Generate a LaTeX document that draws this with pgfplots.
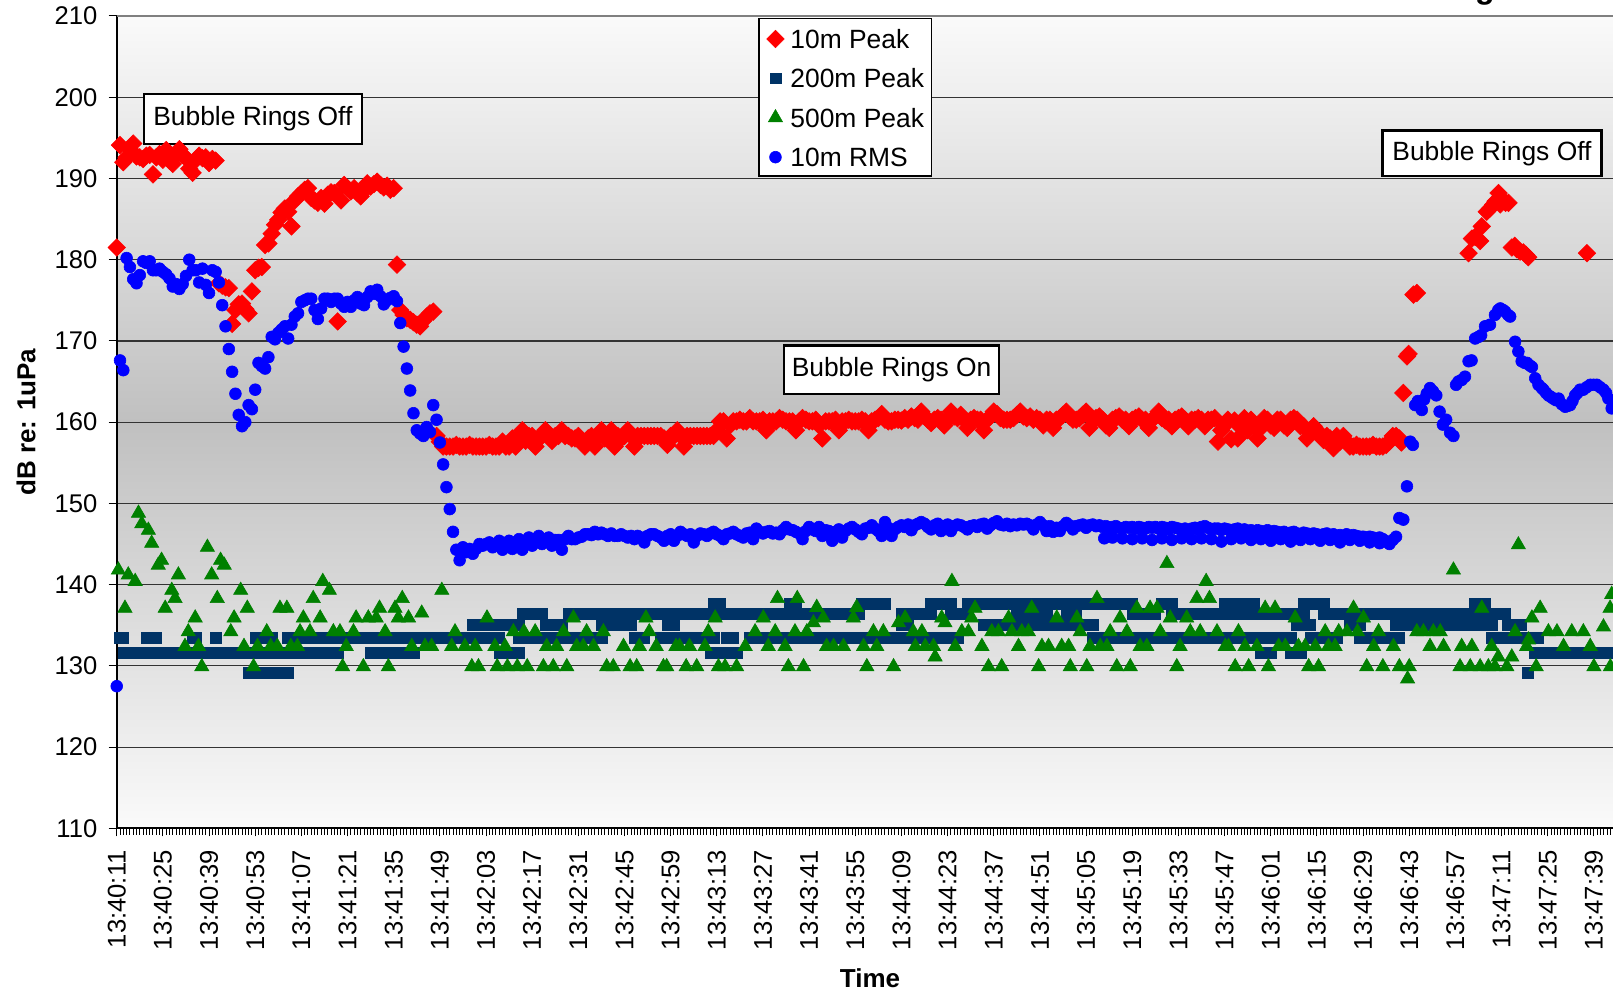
\documentclass[border=0pt]{standalone}
\usepackage{pgfplots}
\pgfplotsset{compat=1.18}
\usepackage{fontspec}
\setmainfont{Liberation Sans}
\definecolor{rpk}{HTML}{FF0000}
\definecolor{npk}{HTML}{003366}
\definecolor{gpk}{HTML}{008000}
\definecolor{brms}{HTML}{0000FF}
\definecolor{bgmid}{HTML}{C0C0C0}
\definecolor{bgedge}{HTML}{FAFAFA}
\begin{document}
\begin{tikzpicture}
\begin{axis}[
  x=1.6485pt, y=4.0615pt,
  xmin=0, xmax=460, ymin=110, ymax=210,
  clip=false,
  axis x line*=bottom, axis y line*=left,
  axis line style={black, line width=1pt},
  axis background/.style={top color=bgedge, bottom color=bgedge, middle color=bgmid},
  ytick={110,120,...,210},
  ymajorgrids, grid style={black!80, line width=0.6pt},
  xtick={0,14,...,448},
  minor xtick={0,1,...,460},
  xticklabels={13:40:11,13:40:25,13:40:39,13:40:53,13:41:07,13:41:21,13:41:35,13:41:49,13:42:03,13:42:17,13:42:31,13:42:45,13:42:59,13:43:13,13:43:27,13:43:41,13:43:55,13:44:09,13:44:23,13:44:37,13:44:51,13:45:05,13:45:19,13:45:33,13:45:47,13:46:01,13:46:15,13:46:29,13:46:43,13:46:57,13:47:11,13:47:25,13:47:39},
  tick align=outside,
  major tick length=4pt, minor tick length=3.3pt,
  tick style={black, line width=0.5pt},
  /pgf/number format/assume math mode=true,
  yticklabel style={font=\fontsize{12.8}{14}\selectfont, xshift=-2.2pt},
  xticklabel style={font=\fontsize{12.8}{14}\selectfont, rotate=90, anchor=east, inner xsep=6.8pt},
  xlabel={Time}, ylabel={dB re: 1uPa},
  every axis x label/.style={at={(axis description cs:0.4967,-0.1843)}, anchor=center, font=\bfseries\fontsize{13}{15}\selectfont},
  every axis y label/.style={at={(axis description cs:-0.0598,0.5)}, rotate=90, anchor=center, font=\bfseries\fontsize{13}{15}\selectfont},
  legend cell align=left,
  legend image code/.code={\draw[#1] plot coordinates {(0pt,-0.3pt)};},
  legend style={at={(axis description cs:0.423,0.9972)}, anchor=north west, draw=black, line width=0.6pt, fill=white,
    font=\fontsize{13.2}{15}\selectfont, inner xsep=3.9pt, inner ysep=3.6pt, row sep=7.4pt, column sep=3.1pt,
    nodes={inner sep=0pt, text height=11.2pt, text depth=1.1pt}},
]
% 10m Peak
\addplot[only marks, mark=square*, mark size=3.1pt, mark options={rotate=45, fill=rpk, draw=rpk, line width=0.3pt}] coordinates {
(0,181.5)(1,194.1)(2,192.0)(3,192.6)(4,193.6)(5,194.3)(6,192.7)(7,192.6)(8,192.4)(9,192.8)(10,192.9)(11,190.5)(12,192.6)(13,193.0)(14,192.3)(15,193.5)(16,192.2)(17,191.8)(18,192.8)(19,193.6)(20,192.9)(21,192.5)(22,191.2)(23,190.7)(24,192.3)(25,192.8)(26,192.5)(27,192.6)(28,191.9)(29,192.4)(30,192.2)
(31,177.1)(32,176.8)(33,176.6)(34,176.5)(35,172.1)(36,173.8)(37,174.5)(38,174.6)(39,173.9)(40,173.4)(41,176.1)(42,178.7)(43,179.0)(44,179.1)(45,181.8)(46,182.0)(47,183.2)(48,184.3)(49,184.9)(50,185.8)(51,186.3)(52,185.9)(53,184.1)(54,187.3)(55,187.8)(56,188.2)(57,188.6)(58,188.8)(59,187.6)(60,187.3)(61,187.0)(62,187.6)(63,186.9)(64,188.0)(65,188.3)(66,188.2)(67,172.4)(68,187.3)(69,189.2)(70,188.8)(71,188.4)(72,188.8)(73,188.2)(74,187.8)(75,188.5)(76,189.4)(77,189.0)(78,189.3)(79,189.6)(80,189.2)(81,188.9)(82,189.1)(83,188.6)(84,188.8)(85,179.4)(86,173.8)(87,173.2)(88,172.8)(89,172.6)(90,172.3)(91,172.0)(92,171.8)(93,172.5)(94,173.0)(95,173.4)(96,173.6)(97,158.3)(98,157.6)
(99,157.0)(100,157.0)(101,157.0)(102,157.0)(103,157.2)(104,157.0)(105,157.0)(106,157.0)(107,157.2)(108,157.0)(109,157.0)(110,157.0)(111,157.0)(112,157.0)(113,157.2)(114,157.0)(115,157.0)(116,157.0)(117,157.6)(118,157.0)(119,157.0)
(120,158.0)(121,157.0)(122,158.0)(123,159.0)(124,157.7)(125,158.3)(126,158.3)(127,157.0)(128,158.0)(129,158.3)(130,159.0)(131,158.3)(132,157.7)(133,158.3)(134,158.3)(135,159.0)(136,158.3)(137,158.3)(138,158.0)(139,158.0)(140,158.3)(141,157.7)(142,157.0)(143,158.0)(144,158.3)(145,157.0)(146,158.3)(147,159.0)(148,158.0)(149,158.3)(150,159.0)(151,157.0)(152,158.3)(153,158.0)(154,158.3)(155,159.0)(156,158.3)(157,157.0)(158,158.3)(159,158.3)(160,158.3)(161,158.3)(162,158.3)(163,158.3)(164,158.3)(165,158.3)(166,158.0)(167,157.2)(168,158.3)(169,158.3)(170,159.0)(171,158.3)(172,157.0)(173,158.3)(174,158.3)(175,158.3)(176,158.3)(177,158.3)(178,158.3)(179,158.3)(180,158.3)(181,158.3)(182,159.0)
(183,160.1)(184,160.1)(185,158.0)(186,159.6)(187,160.1)(188,160.1)(189,160.3)(190,160.1)(191,160.1)(192,160.5)(193,160.1)(194,160.1)(195,160.1)(196,160.3)(197,159.0)(198,160.1)(199,160.1)(200,160.1)(201,160.5)(202,160.3)(203,160.1)(204,160.1)(205,160.1)(206,159.0)(207,160.1)(208,160.5)(209,160.3)(210,160.1)(211,160.1)(212,160.3)(213,159.6)(214,158.0)(215,160.1)(216,160.1)(217,160.1)(218,160.3)(219,159.0)(220,160.1)(221,160.1)(222,160.3)(223,160.1)(224,160.1)(225,160.1)(226,160.3)(227,160.1)(228,159.0)(229,160.1)(230,160.3)(231,160.5)(232,161.0)(233,160.3)(234,160.1)(235,160.1)(236,160.3)(237,160.3)
(238,160.2)(239,160.5)(240,160.3)(241,160.7)(242,160.5)(243,160.3)(244,161.3)(245,160.7)(246,160.3)(247,159.9)(248,160.3)(249,160.5)(250,160.3)(251,159.6)(252,160.3)(253,161.3)(254,160.7)(255,160.5)(256,160.9)(257,160.3)(258,159.3)(259,160.3)(260,160.5)(261,160.3)(262,160.3)(263,159.0)(264,160.3)(265,160.7)(266,161.3)(267,161.0)(268,160.5)(269,160.3)(270,160.3)(271,160.3)(272,160.5)(273,160.9)(274,161.3)(275,160.7)(276,160.5)(277,160.7)(278,160.3)(279,160.5)(280,160.3)(281,159.6)(282,160.3)(283,160.3)(284,159.3)(285,160.3)(286,160.5)(287,160.9)(288,161.3)(289,160.7)(290,160.3)(291,160.3)(292,160.5)(293,160.9)(294,161.3)(295,159.3)(296,160.3)(297,160.5)(298,160.7)(299,160.3)(300,159.6)(301,159.3)(302,160.3)(303,160.5)(304,160.7)(305,160.3)(306,160.3)(307,159.5)(308,160.3)(309,160.5)(310,160.7)(311,160.3)(312,160.3)(313,159.3)(314,160.3)(315,160.7)(316,161.3)(317,160.5)(318,160.2)(319,160.3)(320,159.5)(321,160.3)(322,160.5)(323,160.7)(324,160.3)(325,159.5)(326,160.3)(327,160.3)(328,160.5)(329,160.3)(330,159.5)(331,160.3)(332,160.3)(333,160.5)
(334,157.6)(335,159.0)(336,159.6)(337,160.3)(338,157.9)(339,160.2)(340,158.0)(341,159.3)(342,160.5)(343,159.0)(344,160.3)(345,159.6)(346,158.0)(347,159.3)(348,160.5)(349,160.3)(350,159.6)(351,159.3)(352,160.3)(353,160.3)(354,159.6)(355,159.3)(356,160.3)(357,160.5)(358,160.3)(359,159.5)(360,159.5)(361,158.0)(362,159.0)(363,159.5)(364,159.0)(365,158.3)(366,157.8)(367,158.3)(368,158.0)(369,156.8)(370,158.3)(371,157.6)(372,158.3)(373,157.6)(374,157.0)(375,157.0)(376,157.2)(377,157.0)(378,157.0)(379,157.0)(380,157.0)(381,157.2)(382,157.0)(383,157.0)(384,157.0)(385,157.2)(386,157.6)(387,158.3)(388,158.3)(389,158.0)(389.6,157.5)
(390.2,163.6)(391.3,168.1)(391.8,168.4)(393.3,175.7)(394.3,175.9)
(410.0,180.8)(411.0,182.6)(412.0,182.8)(413.5,182.3)(414.0,184.1)(415.5,185.9)(416.5,186.3)(417.5,186.8)(418.2,187.2)(419.1,188.2)(419.6,186.8)(420.5,187.3)(421.2,187.0)(422.1,187.0)(423.1,181.5)(424.0,181.7)(424.6,181.3)(425.6,181.0)(426.6,180.9)(427.4,180.6)(428.1,180.3)(445.9,180.8)
};
\addlegendentry{10m Peak}
% 200m Peak
\addplot[only marks, mark=square*, mark size=2.7pt, mark options={fill=npk, draw=npk, line width=0.3pt}] coordinates {
(1,133.5)(2,133.5)(9,133.5)(11,133.5)(12,133.5)(23,133.5)(24,133.5)(30,133.5)(42,133.5)(44,133.5)(46,133.5)(47,133.5)(52,133.5)(54,133.5)(55,133.5)(57,133.5)(59,133.5)(61,133.5)(63,133.5)(65,133.5)(67,133.5)(69,133.5)(71,133.5)(73,133.5)(75,133.5)(76,133.5)(79,133.5)(81,133.5)(82,133.5)(85,133.5)(87,133.5)(89,133.5)(91,133.5)(93,133.5)(95,133.5)(97,133.5)(99,133.5)(101,133.5)(103,133.5)(105,133.5)(107,133.5)(109,133.5)(110,133.5)(113,133.5)(115,133.5)(116,133.5)(122,133.5)(124,133.5)(126,133.5)(128,133.5)(130,133.5)(132,133.5)(134,133.5)(136,133.5)(138,133.5)(140,133.5)(142,133.5)(144,133.5)(146,133.5)(147,133.5)(157,133.5)(159,133.5)(160,133.5)(165,133.5)(167,133.5)(169,133.5)(171,133.5)(173,133.5)(175,133.5)(177,133.5)(179,133.5)(181,133.5)(185,133.5)(187,133.5)(192,133.5)(194,133.5)(196,133.5)(198,133.5)(200,133.5)(202,133.5)(204,133.5)(206,133.5)(208,133.5)(210,133.5)(212,133.5)(214,133.5)(216,133.5)(218,133.5)(220,133.5)(222,133.5)(224,133.5)(226,133.5)(228,133.5)(230,133.5)(232,133.5)(234,133.5)(236,133.5)(238,133.5)(240,133.5)(242,133.5)(244,133.5)(246,133.5)(248,133.5)(250,133.5)(252,133.5)(254,133.5)(255,133.5)(296,133.5)(298,133.5)(300,133.5)(302,133.5)(304,133.5)(306,133.5)(308,133.5)(310,133.5)(312,133.5)(314,133.5)(316,133.5)(318,133.5)(320,133.5)(322,133.5)(324,133.5)(326,133.5)(328,133.5)(330,133.5)(332,133.5)(334,133.5)(336,133.5)(338,133.5)(340,133.5)(342,133.5)(344,133.5)(346,133.5)(347,133.5)(350,133.5)(352,133.5)(354,133.5)(356,133.5)(362,133.5)(364,133.5)(366,133.5)(368,133.5)(370,133.5)(377,133.5)(379,133.5)(381,133.5)(383,133.5)(386,133.5)(388,133.5)(389,133.5)(417,133.5)(419,133.5)(421,133.5)(423,133.5)(425,133.5)(427,133.5)(429,133.5)(431,133.5)
(2,131.6)(4,131.6)(6,131.6)(8,131.6)(10,131.6)(12,131.6)(14,131.6)(16,131.6)(18,131.6)(20,131.6)(22,131.6)(24,131.6)(26,131.6)(28,131.6)(30,131.6)(32,131.6)(34,131.6)(36,131.6)(38,131.6)(40,131.6)(41,131.6)(44,131.6)(46,131.6)(48,131.6)(50,131.6)(51,131.6)(54,131.6)(56,131.6)(58,131.6)(60,131.6)(62,131.6)(65,131.6)(67,131.6)(77,131.6)(79,131.6)(81,131.6)(83,131.6)(85,131.6)(87,131.6)(89,131.6)(90,131.6)(116,131.6)(118,131.6)(120,131.6)(122,131.6)(180,131.6)(182,131.6)(183,131.6)(186,131.6)(188,131.6)(347,131.6)(349,131.6)(350,131.6)(356,131.6)(358,131.6)(359,131.6)(430,131.6)(432,131.6)(434,131.6)(436,131.6)(438,131.6)(440,131.6)(442,131.6)(444,131.6)(446,131.6)(448,131.6)(450,131.6)(452,131.6)(454,131.6)
(40,129.1)(42,129.1)(44,129.1)(45,129.1)(48,129.1)(50,129.1)(52,129.1)(428,129.1)
(108,135.1)(110,135.1)(112,135.1)(114,135.1)(116,135.1)(118,135.1)(120,135.1)(122,135.1)(130,135.1)(132,135.1)(134,135.1)(135,135.1)(147,135.1)(149,135.1)(151,135.1)(153,135.1)(155,135.1)(156,135.1)(167,135.1)(169,135.1)(238,135.1)(240,135.1)(263,135.1)(265,135.1)(267,135.1)(269,135.1)(271,135.1)(273,135.1)(275,135.1)(277,135.1)(279,135.1)(281,135.1)(283,135.1)(285,135.1)(287,135.1)(289,135.1)(291,135.1)(293,135.1)(295,135.1)(296,135.1)(358,135.1)(360,135.1)(362,135.1)(374,135.1)(376,135.1)(377,135.1)(388,135.1)(390,135.1)(392,135.1)(394,135.1)(396,135.1)(398,135.1)(400,135.1)(402,135.1)(403,135.1)(405,135.1)(407,135.1)(409,135.1)(411,135.1)(413,135.1)(415,135.1)(417,135.1)(422,135.1)(424,135.1)(426,135.1)
(123,136.4)(125,136.4)(127,136.4)(129,136.4)(137,136.4)(139,136.4)(141,136.4)(143,136.4)(145,136.4)(147,136.4)(149,136.4)(150,136.4)(153,136.4)(155,136.4)(157,136.4)(159,136.4)(161,136.4)(163,136.4)(165,136.4)(166,136.4)(169,136.4)(171,136.4)(173,136.4)(175,136.4)(177,136.4)(179,136.4)(181,136.4)(184,136.4)(186,136.4)(188,136.4)(190,136.4)(192,136.4)(194,136.4)(196,136.4)(198,136.4)(200,136.4)(202,136.4)(204,136.4)(206,136.4)(208,136.4)(210,136.4)(212,136.4)(214,136.4)(216,136.4)(218,136.4)(220,136.4)(222,136.4)(224,136.4)(225,136.4)(238,136.4)(240,136.4)(242,136.4)(244,136.4)(246,136.4)(247,136.4)(253,136.4)(255,136.4)(257,136.4)(258,136.4)(273,136.4)(275,136.4)(276,136.4)(279,136.4)(281,136.4)(282,136.4)(288,136.4)(290,136.4)(291,136.4)(308,136.4)(310,136.4)(312,136.4)(314,136.4)(315,136.4)(320,136.4)(322,136.4)(324,136.4)(326,136.4)(328,136.4)(330,136.4)(332,136.4)(334,136.4)(336,136.4)(339,136.4)(341,136.4)(342,136.4)(345,136.4)(347,136.4)(349,136.4)(351,136.4)(353,136.4)(355,136.4)(357,136.4)(359,136.4)(360,136.4)(366,136.4)(368,136.4)(370,136.4)(372,136.4)(374,136.4)(376,136.4)(378,136.4)(380,136.4)(382,136.4)(384,136.4)(386,136.4)(388,136.4)(390,136.4)(392,136.4)(394,136.4)(396,136.4)(398,136.4)(400,136.4)(402,136.4)(404,136.4)(406,136.4)(408,136.4)(410,136.4)(412,136.4)(414,136.4)(416,136.4)(418,136.4)(420,136.4)(421,136.4)
(181,137.6)(183,137.6)(204,137.6)(206,137.6)(226,137.6)(228,137.6)(230,137.6)(232,137.6)(233,137.6)(247,137.6)(249,137.6)(251,137.6)(253,137.6)(258,137.6)(260,137.6)(262,137.6)(264,137.6)(266,137.6)(268,137.6)(270,137.6)(272,137.6)(273,137.6)(276,137.6)(278,137.6)(279,137.6)(282,137.6)(284,137.6)(286,137.6)(288,137.6)(291,137.6)(293,137.6)(295,137.6)(297,137.6)(299,137.6)(301,137.6)(303,137.6)(305,137.6)(307,137.6)(308,137.6)(317,137.6)(319,137.6)(320,137.6)(336,137.6)(338,137.6)(339,137.6)(342,137.6)(344,137.6)(345,137.6)(360,137.6)(362,137.6)(364,137.6)(366,137.6)(412,137.6)(414,137.6)(415,137.6)
};
\addlegendentry{200m Peak}
% 500m Peak
\addplot[only marks, mark=triangle*, mark size=4.1pt, mark options={fill=gpk, draw=gpk, line width=0.3pt}] coordinates {
(0.5,141.8)(2.5,137.1)(3.5,141.2)(5.6,140.4)(6.6,148.8)(7.6,147.5)(9.6,146.7)(10.6,145.1)(12.6,142.4)(13.6,143.0)(14.7,137.1)(16.7,139.3)(17.7,138.3)(18.7,141.2)(20.7,132.4)(21.7,134.2)(23.8,135.9)(24.8,132.4)(25.8,129.9)(27.5,144.6)(28.8,141.2)(30.5,138.3)(31.5,143.0)(32.6,142.4)(34.6,134.2)(35.6,135.9)(37.6,139.3)(38.6,132.4)(39.6,137.1)(41.5,129.9)(42.7,132.4)(45.5,134.2)(46.7,132.4)(48.7,132.4)(49.5,137.1)(51.6,137.1)(52.8,132.4)(54.8,132.4)(55.6,134.2)(56.6,135.9)(58.6,134.2)(59.6,138.3)(61.7,135.9)(62.5,140.4)(64.5,139.3)(65.7,134.2)(67.7,134.2)(68.5,129.9)(69.6,132.4)(71.8,134.2)(72.6,135.9)(74.8,129.9)(76.3,135.9)(78.7,135.9)(79.7,137.1)(81.4,134.2)(82.4,129.9)(84.4,137.1)(85.4,135.9)(86.6,138.3)(88.5,135.9)(89.5,132.4)(92.5,136.5)(93.5,132.4)(95.5,132.4)(98.6,139.3)
(101.6,132.4)(102.6,134.2)(105.6,132.4)(107.7,129.9)(108.7,132.4)(109.7,129.9)(112.3,135.9)(114.7,132.4)(115.4,129.9)(117.8,132.4)(118.5,129.9)(120.3,134.2)(121.5,129.9)(123.5,134.2)(124.5,129.9)(126.9,134.2)(129.4,129.9)(130.4,132.4)(132.4,129.9)(133.4,132.4)(135.5,134.2)(136.5,129.9)(138.5,135.9)(139.5,132.4)(141.5,132.4)(142.5,134.2)(144.6,132.4)(147.6,134.2)(148.6,129.9)(150.6,129.9)(153.7,132.4)(155.7,129.9)(157.7,129.9)(158.5,132.4)(160.5,135.9)(161.5,134.2)(163.6,132.4)(165.8,129.9)(166.8,129.9)(169.6,132.4)(170.7,132.4)(172.7,129.9)(173.7,132.4)(175.9,129.9)(178.4,132.4)(179.4,134.2)(181.5,135.9)(182.5,129.9)(184.5,129.9)(188.0,129.9)(190.6,132.4)(193.6,134.2)(196.1,135.9)(197.6,132.4)(199.7,134.2)(200.4,138.3)(202.7,132.4)(203.7,129.9)(205.7,134.2)(206.4,138.3)(208.3,129.9)(209.3,134.2)(211.3,135.3)(212.3,137.2)(214.3,135.9)(215.3,132.4)(217.4,132.4)(220.4,132.4)(223.4,135.9)(224.4,137.2)(226.5,132.4)(227.5,129.9)(229.5,134.2)(230.5,132.4)(232.5,134.2)(235.6,129.9)(237.1,135.3)
(239.1,135.9)(241.6,134.2)(242.2,132.4)(244.2,134.2)(245.2,132.4)(247.7,132.4)(248.2,131.1)(250.2,135.9)(251.2,135.3)(253.3,140.4)(254.3,132.4)(256.3,134.2)(258.3,134.2)(259.3,135.9)(260.3,137.1)(262.4,132.4)(264.4,129.9)(265.4,134.2)(267.4,134.2)(268.4,129.9)(270.5,135.9)(271.5,134.2)(273.5,132.4)(274.5,134.2)(276.5,134.2)(277.5,137.1)(279.6,129.9)(280.6,132.4)(282.6,132.4)(285.1,135.9)(286.6,132.4)(288.7,132.4)(289.2,129.9)(291.2,135.9)(292.2,134.2)(294.2,129.9)(295.2,132.4)(297.3,138.3)(298.3,132.4)(300.3,132.4)(301.3,134.2)(303.3,129.9)(304.3,135.9)(306.4,134.2)(307.4,129.9)(309.4,137.1)(310.4,132.4)(312.4,132.4)(313.4,137.1)(315.5,137.1)(316.5,134.2)(318.5,142.6)(319.5,135.9)(321.5,129.9)(322.5,132.4)(324.5,135.9)(325.6,134.2)(327.6,138.3)(328.6,134.2)(330.4,140.4)(331.4,138.3)(333.7,134.2)(336.2,132.4)(337.2,132.4)(339.2,129.9)(340.2,134.2)(342.2,132.4)(343.3,129.9)(345.8,132.4)(348.3,137.1)(349.3,129.9)(351.3,137.1)(352.4,132.4)(354.4,132.4)(357.4,135.9)(358.4,132.4)(360.4,132.4)(361.5,129.9)(363.5,132.4)(364.5,129.9)(366.5,134.2)(367.5,132.4)(369.5,132.4)(370.6,134.2)(373.1,134.2)(375.1,137.1)(376.3,134.2)(378.1,135.9)(379.1,129.9)(381.2,132.4)(382.7,134.2)
(384,129.9)(387.2,132.4)(389,129.9)(391.5,128.4)(392,129.9)(394.3,134.2)(396.3,134.2)(398.3,132.4)(399.3,134.2)(401.4,134.2)(402.4,132.4)(405.4,141.8)(407.4,129.9)(407.9,132.4)(410.5,129.9)(411,132.4)(413.5,129.9)(414,137.1)(416,129.9)(417,132.4)(418,129.9)(419,131.1)(421.6,129.9)(423.1,131.1)(424.1,134.2)(425.1,144.9)(427.6,132.4)(428.2,133.2)(429.2,135.9)(430.5,129.9)(431.7,137.1)(434.2,134.2)(436.8,134.2)(438.8,132.4)(441.3,134.2)(444.8,134.2)(446.9,132.4)(448,129.9)(450.9,134.8)(452.9,137.1)(453,129.9)(453.4,138.8)
};
\addlegendentry{500m Peak}
% 10m RMS
\addplot[only marks, mark=*, mark size=2.95pt, mark options={fill=brms, draw=brms, line width=0.3pt}] coordinates {
(0,127.5)(1,167.6)(2,166.4)(3,180.2)(4,179.1)(5,177.6)(6,177.1)(7,178.1)(8,179.8)(9,179.6)(10,179.8)(11,178.7)(12,178.7)(13,178.9)(14,178.5)(15,178.2)(16,177.7)(17,176.7)(18,177.0)(19,176.4)(20,177.0)(21,178.0)(22,180.0)(23,178.7)(24,178.7)(25,177.2)(26,178.9)(27,176.9)(28,175.9)(29,178.7)(30,178.5)(31,177.2)(32,174.4)(33,171.8)(34,169.0)(35,166.2)(36,163.5)(37,160.9)(38,159.5)(39,160.0)(40,162.1)(41,161.6)(42,164.0)(43,167.3)(44,166.9)(45,166.6)(46,168.0)(47,170.5)(48,170.2)(49,171.0)(50,171.4)(51,171.8)(52,170.3)(53,172.0)(54,173.0)(55,173.4)(56,174.8)(57,175.0)(58,175.2)(59,175.2)(60,173.8)(61,172.7)(62,174.0)(63,175.2)(64,175.2)(65,174.8)(66,175.2)(67,175.2)(68,174.6)(69,174.2)(70,174.8)(71,174.2)(72,175.0)(73,175.4)(74,174.6)(75,174.4)(76,175.4)(77,176.1)(78,175.8)(79,176.3)(80,175.5)(81,174.5)(82,175.0)(83,175.3)(84,175.5)(85,174.9)(86,172.2)(87,169.3)(88,166.6)(89,163.9)(90,161.1)(91,159.0)(92,158.6)(93,158.3)(94,159.4)(95,158.8)(96,162.1)(97,160.3)(98,157.5)(99,154.8)(100,152.0)(101,149.3)(102,146.5)(103,144.3)(104,143.0)(105,144.6)(106,144.0)(107,144.4)(108,143.8)(109,144.4)(110,145.0)
(111,144.8)(112,145.0)(113,145.2)(114,144.6)(115,145.0)(116,145.4)(117,144.3)(118,145.0)(119,145.4)(120,144.4)(121,145.2)(122,145.6)(123,144.3)(124,145.4)(125,145.8)(126,144.8)(127,145.6)(128,146.0)(129,145.0)(130,145.5)(131,145.8)(132,144.8)(133,145.5)(134,145.5)(135,144.3)(136,145.6)(137,146.0)(138,145.6)(139,145.6)(140,145.8)(141,145.9)(142,146.2)(143,146.2)(144,146.1)(145,146.5)(146,146.2)(147,146.4)(148,146.2)(149,146.0)(150,146.3)(151,146.0)(152,146.0)(153,146.2)(154,146.0)(155,145.8)(156,146.0)(157,145.6)(158,146.0)(159,145.8)(160,145.2)(161,146.0)(162,146.2)(163,146.2)(164,146.0)(165,145.8)(166,145.4)(167,146.0)(168,146.2)(169,145.4)(170,146.0)(171,146.5)(172,146.2)(173,146.0)(174,146.2)(175,145.2)(176,146.0)(177,146.3)(178,146.2)(179,146.0)(180,146.3)(181,146.5)(182,146.2)(183,146.0)(184,145.6)(185,146.2)(186,146.3)(187,146.5)(188,146.2)(189,146.0)(190,145.8)(191,146.3)(192,146.4)(193,145.6)(194,146.9)(195,146.5)(196,146.3)(197,146.5)(198,146.6)(199,146.3)(200,146.4)(201,146.2)(202,146.7)(203,147.1)(204,146.8)(205,146.7)(206,146.5)(207,146.3)(208,145.6)(209,146.6)(210,147.1)(211,146.8)(212,146.6)(213,147.1)(214,146.0)(215,146.7)(216,146.6)(217,145.4)(218,146.5)(219,146.8)(220,145.8)(221,146.6)(222,146.9)(223,147.1)(224,146.8)(225,146.5)(226,146.2)(227,146.9)(228,147.0)(229,147.3)(230,146.9)(231,146.6)(232,146.0)(233,147.7)(234,147.0)(235,146.0)(236,146.8)(237,147.1)
(238,147.3)(239,147.1)(240,147.4)(241,146.7)(242,147.3)(243,147.5)(244,147.7)(245,147.5)(246,147.1)(247,146.8)(248,147.3)(249,147.5)(250,146.6)(251,147.2)(252,147.4)(253,146.6)(254,147.2)(255,147.4)(256,147.3)(257,147.1)(258,146.8)(259,147.2)(260,147.3)(261,147.1)(262,147.4)(263,147.5)(264,146.9)(265,147.3)(266,147.6)(267,147.8)(268,147.4)(269,147.3)(270,147.5)(271,147.2)(272,147.4)(273,147.3)(274,147.5)(275,147.4)(276,147.5)(277,147.3)(278,146.8)(279,147.4)(280,147.7)(281,147.3)(282,146.6)(283,147.2)(284,146.5)(285,147.0)(286,146.6)(287,147.2)(288,147.6)(289,147.3)(290,146.8)(291,147.2)(292,147.3)(293,147.4)(294,147.0)(295,147.3)(296,147.4)(297,147.2)(298,147.3)(299,147.1)(300,147.2)(301,147.0)(302,147.1)(303,147.2)(304,147.0)(305,146.9)(306,147.1)(307,147.0)(308,147.1)(309,146.9)(310,147.1)(311,147.0)(312,146.9)(313,147.1)(314,147.0)(315,147.1)(316,146.9)(317,147.1)(318,147.0)(319,146.8)(320,147.1)(321,147.0)(322,146.9)(323,146.7)(324,146.9)(325,146.6)(326,146.9)(327,147.0)(328,146.8)(329,147.1)(330,147.2)(331,147.0)(332,146.8)(333,146.9)(334,146.9)(335,146.7)(336,146.9)(337,146.8)(338,146.6)(339,146.8)(340,146.9)(341,146.7)(342,146.8)(343,146.6)(344,146.7)(345,146.5)(346,146.7)(347,146.6)(348,146.5)(349,146.7)(350,146.4)(351,146.6)(352,146.5)(353,146.4)(354,146.5)(355,146.3)(356,146.4)(357,146.5)(358,146.3)(359,146.2)(360,146.4)(361,146.3)(362,146.1)(363,146.3)(364,146.2)(365,146.0)(366,146.2)(367,146.3)(368,146.1)(369,146.2)(370,146.0)(371,146.1)(372,146.0)(373,146.2)(374,145.9)(375,146.1)(376,146.0)(377,145.9)(378,145.9)(379,145.8)(380,145.9)(381,145.8)(382,145.6)(383,145.8)(384,145.6)(385,145.3)(386,145.0)(387,145.5)(388,145.9)
(299.5,145.7)(302,145.8)(305,145.7)(308,145.6)(311,145.7)(314,145.5)(317,145.7)(320,145.5)(323,145.7)(326,145.6)(329,145.7)(332,145.6)(335,145.3)(338,145.6)(341,145.7)(344,145.5)(347,145.6)(350,145.4)(353,145.6)(356,145.3)(359,145.5)(362,145.6)(365,145.4)(368,145.5)(371,145.2)(374,145.5)(377,145.4)(380,145.2)(383,145.1)
(389,148.2)(390.2,148.0)(391.3,152.1)(392.3,157.6)(393.1,157.2)(393.8,162.1)(394.6,162.6)(395.8,161.5)(396.5,162.8)(397.3,163.5)(398.3,164.2)(399.2,163.8)(400.2,163.3)(401.2,161.3)(402.2,159.7)(403.2,160.3)(404.4,158.7)(405.4,158.3)
(406.2,164.6)(406.9,165.0)(407.9,165.2)(408.9,165.6)(410.0,167.5)(410.9,167.6)(412.0,170.3)(413.0,170.5)(413.8,170.7)(415.0,171.8)(416.5,172.0)(418.0,173.2)(419.0,173.8)(419.6,174.0)(420.5,173.8)(421.1,173.6)(422.0,173.2)(422.6,173.0)(424.1,169.9)(425.1,168.7)(426.1,167.5)(427.0,167.3)(427.7,167.3)(428.5,167.0)(429.2,166.8)(430.2,165.4)(431.2,164.6)(432.2,164.2)(432.7,164.0)(433.5,163.6)(434.2,163.3)(435.0,163.1)(435.7,162.9)(436.5,162.7)(437.3,162.9)(438.3,162.2)(439.3,161.9)(440.0,162.0)(440.8,162.1)(441.5,162.6)(442.3,163.3)(443.0,163.6)(443.8,164.0)(444.8,164.0)(445.8,164.3)(446.9,164.6)(447.9,164.6)(448.9,164.6)(449.9,164.3)(450.9,164.0)(451.7,163.6)(452.4,162.9)(453.4,161.7)
};
\addlegendentry{10m RMS}
\draw[black!50, line width=1.2pt] (axis cs:0,210) -- (axis cs:460,210);
\node[draw=black, line width=1.2pt, fill=white, minimum width=109pt, minimum height=25pt, inner sep=1pt, font=\fontsize{13.2}{15}\selectfont] at (axis cs:41.3,197.32) {Bubble Rings Off};
\node[draw=black, line width=1.2pt, fill=white, minimum width=109.5pt, minimum height=22.7pt, inner sep=1pt, font=\fontsize{13.2}{15}\selectfont] at (axis cs:417.1,193.1) {Bubble Rings Off};
\node[draw=black, line width=1.2pt, fill=white, minimum width=107.5pt, minimum height=24.2pt, inner sep=1pt, font=\fontsize{13.2}{15}\selectfont] at (axis cs:235.0,166.44) {Bubble Rings On};
\node[anchor=base east, inner sep=0pt, font=\bfseries\fontsize{16}{18}\selectfont] at (axis cs:418.0,212.18) {Sound Levels with Bubble Ring};
\coordinate (BL) at (axis cs:-35.4,89.72);
\coordinate (TR) at (axis cs:453.8,211.97);
\end{axis}
\pgfresetboundingbox
\useasboundingbox (BL) rectangle (TR);
\end{tikzpicture}
\end{document}
